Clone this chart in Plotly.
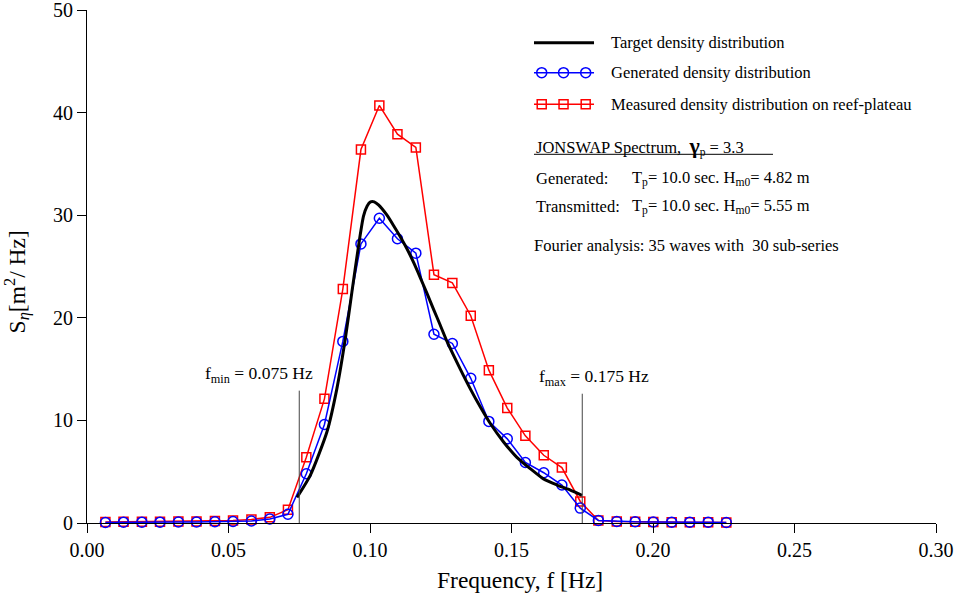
import plotly.graph_objects as go

# ---------------- data ----------------
freq = [0.0065, 0.0129, 0.0194, 0.0258, 0.0323, 0.0387, 0.0452, 0.0516, 0.0581, 0.0646,
        0.0710, 0.0775, 0.0839, 0.0904, 0.0968, 0.1033, 0.1097, 0.1162, 0.1226, 0.1291,
        0.1356, 0.1420, 0.1485, 0.1549, 0.1614, 0.1678, 0.1743, 0.1807, 0.1872, 0.1937,
        0.2001, 0.2066, 0.2130, 0.2195, 0.2259]

generated = [0.05, 0.08, 0.08, 0.08, 0.10, 0.10, 0.12, 0.15, 0.20, 0.40,
             0.85, 4.8, 9.6, 17.7, 27.2, 29.7, 27.7, 26.3, 18.4, 17.5,
             14.1, 9.9, 8.2, 5.9, 4.9, 3.7, 1.45, 0.25, 0.15, 0.12,
             0.10, 0.08, 0.08, 0.08, 0.05]

measured = [0.10, 0.12, 0.12, 0.12, 0.15, 0.15, 0.20, 0.25, 0.35, 0.55,
            1.3, 6.4, 12.1, 22.8, 36.4, 40.7, 37.9, 36.6, 24.2, 23.4,
            20.2, 14.9, 11.2, 8.5, 6.6, 5.4, 2.1, 0.25, 0.15, 0.12,
            0.10, 0.08, 0.08, 0.08, 0.05]

target_f = [0.0742, 0.0789, 0.0848, 0.0883, 0.0913, 0.0936, 0.0960, 0.0977, 0.0990, 0.1002,
            0.1015, 0.1030, 0.1060, 0.1083, 0.1107, 0.1131, 0.1154, 0.1178, 0.1201, 0.1225,
            0.1248, 0.1272, 0.1319, 0.1354, 0.1390, 0.1425, 0.1472, 0.1519, 0.1566, 0.1613,
            0.1661, 0.1708, 0.1749]
target_S = [2.5, 4.65, 8.9, 13.1, 18.0, 22.5, 27.1, 29.9, 30.9, 31.3,
            31.3, 31.0, 30.0, 29.0, 27.9, 26.7, 25.4, 23.9, 22.4, 20.8,
            19.3, 17.7, 15.0, 13.1, 11.3, 9.7, 7.9, 6.4, 5.3, 4.3,
            3.7, 3.2, 2.7]

f_min = 0.075
f_max = 0.175
x_ticks = [0.0, 0.05, 0.10, 0.15, 0.20, 0.25, 0.30]
y_ticks = [0, 10, 20, 30, 40, 50]

legend_names = ["Target density distribution",
                "Generated density distribution",
                "Measured density distribution on reef-plateau"]

FONT = "Liberation Serif"
BLUE = "#0000FF"
RED = "#FF0000"

fig = go.Figure()

fig.add_trace(go.Scatter(x=freq, y=measured, mode="lines+markers", name=legend_names[2],
                         line=dict(color=RED, width=1.5),
                         marker=dict(symbol="square-open", size=9, color=RED, line=dict(width=1.5)),
                         cliponaxis=False, showlegend=False))
fig.add_trace(go.Scatter(x=freq, y=generated, mode="lines+markers", name=legend_names[1],
                         line=dict(color=BLUE, width=1.5),
                         marker=dict(symbol="circle-open", size=10, color=BLUE, line=dict(width=1.5)),
                         cliponaxis=False, showlegend=False))
fig.add_trace(go.Scatter(x=target_f, y=target_S, mode="lines", name=legend_names[0],
                         line=dict(color="black", width=3, shape="spline", smoothing=0.6),
                         showlegend=False))

# ---- custom legend keys on an overlay (0..1) axis pair ----
lx0, lx1 = 0.5265, 0.5972
mk_x = [0.5356, 0.5613, 0.5874]
rows = [0.9363, 0.8778, 0.8162]
fig.add_trace(go.Scatter(x=[lx0, lx1], y=[rows[0], rows[0]], mode="lines",
                         line=dict(color="black", width=3), xaxis="x2", yaxis="y2",
                         showlegend=False, hoverinfo="skip"))
fig.add_trace(go.Scatter(x=[lx0] + mk_x + [lx1], y=[rows[1]] * 5, mode="lines",
                         line=dict(color=BLUE, width=1.5), xaxis="x2", yaxis="y2",
                         showlegend=False, hoverinfo="skip"))
fig.add_trace(go.Scatter(x=mk_x, y=[rows[1]] * 3, mode="markers",
                         marker=dict(symbol="circle-open", size=10, color=BLUE, line=dict(width=1.5)),
                         xaxis="x2", yaxis="y2", showlegend=False, hoverinfo="skip"))
fig.add_trace(go.Scatter(x=[lx0] + mk_x + [lx1], y=[rows[2]] * 5, mode="lines",
                         line=dict(color=RED, width=1.5), xaxis="x2", yaxis="y2",
                         showlegend=False, hoverinfo="skip"))
fig.add_trace(go.Scatter(x=mk_x, y=[rows[2]] * 3, mode="markers",
                         marker=dict(symbol="square-open", size=9, color=RED, line=dict(width=1.5)),
                         xaxis="x2", yaxis="y2", showlegend=False, hoverinfo="skip"))

annots = []
for name, ry in zip(legend_names, rows):
    annots.append(dict(x=0.6148, y=ry, xref="paper", yref="paper", text=name,
                       showarrow=False, xanchor="left", yanchor="middle",
                       font=dict(family=FONT, size=16.5, color="black")))

info = [
    (0.5265, 0.7349, "JONSWAP Spectrum,  <span style='font-size:22px'><b>γ</b></span><sub>p</sub> = 3.3"),
    (0.5265, 0.6712, "Generated:"),
    (0.6396, 0.6712, "T<sub>p</sub>= 10.0 sec. H<sub>m0</sub>= 4.82 m"),
    (0.5265, 0.6160, "Transmitted:"),
    (0.6396, 0.6160, "T<sub>p</sub>= 10.0 sec. H<sub>m0</sub>= 5.55 m"),
    (0.5238, 0.5400, "Fourier analysis: 35 waves with  30 sub-series"),
]
for x, y, t in info:
    annots.append(dict(x=x, y=y, xref="paper", yref="paper", text=t,
                       showarrow=False, xanchor="left", yanchor="middle",
                       font=dict(family=FONT, size=16.5, color="black")))

annots.append(dict(x=0.2029, y=0.2904, xref="paper", yref="paper",
                   text="f<sub>min</sub> = 0.075 Hz", showarrow=False,
                   xanchor="center", yanchor="middle",
                   font=dict(family=FONT, size=17.5, color="black")))
annots.append(dict(x=0.5972, y=0.2846, xref="paper", yref="paper",
                   text="f<sub>max</sub> = 0.175 Hz", showarrow=False,
                   xanchor="center", yanchor="middle",
                   font=dict(family=FONT, size=17.5, color="black")))

# axis titles (placed as in the reference)
annots.append(dict(x=0.510, y=-0.1111, xref="paper", yref="paper",
                   text="Frequency, f [Hz]", showarrow=False,
                   xanchor="center", yanchor="middle",
                   font=dict(family=FONT, size=23.5, color="black")))
annots.append(dict(x=-0.0830, y=0.470, xref="paper", yref="paper",
                   text="S<sub><i>η</i></sub>[m<sup>2</sup>/ Hz]", showarrow=False,
                   textangle=-90, xanchor="center", yanchor="middle",
                   font=dict(family=FONT, size=23.5, color="black")))

shapes = [
    dict(type="line", xref="x", yref="y", x0=f_min, x1=f_min, y0=0, y1=12.9,
         line=dict(color="#444444", width=1)),
    dict(type="line", xref="x", yref="y", x0=f_max, x1=f_max, y0=0, y1=12.6,
         line=dict(color="#444444", width=1)),
    dict(type="line", xref="paper", yref="paper", x0=0.5265, x1=0.808, y0=0.7187, y1=0.7187,
         line=dict(color="black", width=1)),
]

fig.update_layout(
    width=960, height=596,
    margin=dict(l=87, r=24, t=10, b=73),
    paper_bgcolor="white", plot_bgcolor="white",
    font=dict(family=FONT, color="black"),
    annotations=annots, shapes=shapes,
    xaxis=dict(range=[0, 0.30], tickvals=x_ticks, tickformat=".2f",
               showline=True, linecolor="black", linewidth=1,
               ticks="outside", ticklen=9, tickcolor="black", tickwidth=1,
               showgrid=False, zeroline=False, automargin=False,
               tickfont=dict(family=FONT, size=20)),
    yaxis=dict(range=[0, 50.0001], tickvals=y_ticks,
               showline=True, linecolor="black", linewidth=1,
               ticks="outside", ticklen=9, tickcolor="black", tickwidth=1,
               showgrid=False, zeroline=False, automargin=False,
               ticklabeloverflow="allow",
               tickfont=dict(family=FONT, size=20)),
    xaxis2=dict(overlaying="x", range=[0, 1], visible=False, anchor="y2"),
    yaxis2=dict(overlaying="y", range=[0, 1], visible=False, anchor="x2"),
)

fig.write_html("out.html")
